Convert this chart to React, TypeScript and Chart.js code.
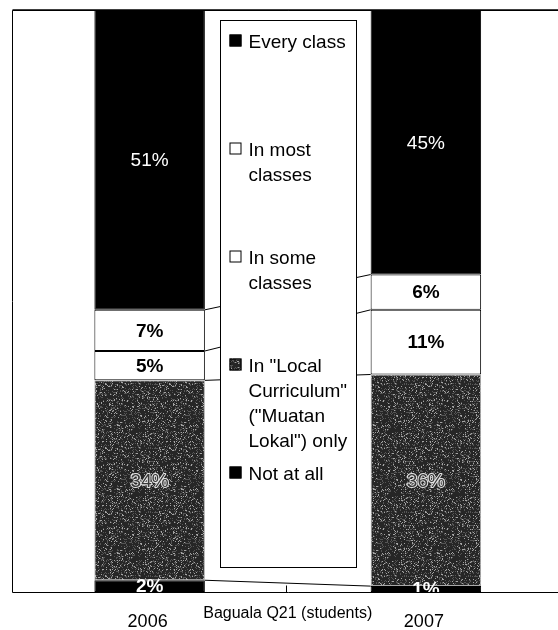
import React, { useEffect, useRef } from 'react';
import { Chart, registerables } from 'chart.js';

Chart.register(...registerables);

// ---- data ----
const categories = ['', '2006', 'Baguala Q21 (students)', '2007', ''];
const seriesNames = [
  'Not at all',
  'In "Local Curriculum" ("Muatan Lokal") only',
  'In some classes',
  'In most classes',
  'Every class',
];
const notAtAll = [null, 2, null, 1, null];
const localCurriculum = [null, 34, null, 36, null];
const someClasses = [null, 5, null, 11, null];
const mostClasses = [null, 7, null, 6, null];
const everyClass = [null, 51, null, 45, null];
const yMax = 99;

const FONT = '"Liberation Sans", Arial, sans-serif';

function makeSpeckle(): CanvasPattern | string {
  const size = 64;
  const c = document.createElement('canvas');
  c.width = size;
  c.height = size;
  const g = c.getContext('2d');
  if (!g) return '#3a3a3a';
  const img = g.createImageData(size, size);
  for (let y = 0; y < size; y++) {
    for (let x = 0; x < size; x++) {
      let h = (Math.imul(x, 374761393) + Math.imul(y, 668265263)) >>> 0;
      h = Math.imul(h ^ (h >>> 13), 1274126177) >>> 0;
      h = (h ^ (h >>> 16)) >>> 0;
      const r = h % 100;
      const v = r < 8 ? 165 : r < 26 ? 85 : 38;
      const i = (y * size + x) * 4;
      img.data[i] = v;
      img.data[i + 1] = v;
      img.data[i + 2] = v;
      img.data[i + 3] = 255;
    }
  }
  g.putImageData(img, 0, 0);
  return g.createPattern(c, 'repeat') || '#3a3a3a';
}

type LabelStyle = { font: string; fill: string; stroke?: string };
const labelStyles: LabelStyle[] = [
  { font: `bold 19px ${FONT}`, fill: '#ffffff' },
  { font: `19px ${FONT}`, fill: '#3a3a3a', stroke: '#e6e6e6' },
  { font: `bold 19px ${FONT}`, fill: '#000000' },
  { font: `bold 19px ${FONT}`, fill: '#000000' },
  { font: `19px ${FONT}`, fill: '#ffffff' },
];

function wrap(ctx: CanvasRenderingContext2D, text: string, maxW: number): string[] {
  const words = text.split(' ');
  const lines: string[] = [];
  let cur = '';
  for (const w of words) {
    const t = cur ? cur + ' ' + w : w;
    if (cur && ctx.measureText(t).width > maxW) {
      lines.push(cur);
      cur = w;
    } else cur = t;
  }
  if (cur) lines.push(cur);
  return lines;
}

const decorPlugin = {
  id: 'decor',
  afterDatasetsDraw(chart: any) {
    const ctx: CanvasRenderingContext2D = chart.ctx;
    const area = chart.chartArea;
    const xs = chart.scales.x;
    const n = chart.data.datasets.length;
    ctx.save();

    // series lines between the two bars
    ctx.strokeStyle = '#000';
    ctx.lineWidth = 1;
    for (let d = 0; d < n - 1; d++) {
      const meta = chart.getDatasetMeta(d);
      const a = meta.data[1];
      const b = meta.data[3];
      ctx.beginPath();
      ctx.moveTo(a.x + a.width / 2, a.y);
      ctx.lineTo(b.x - b.width / 2, b.y);
      ctx.stroke();
    }

    // legend box
    const cx = xs.getPixelForValue(2);
    const bl = Math.round(cx - 68) + 0.5;
    const br = Math.round(cx + 68) + 0.5;
    const bt = Math.round(area.top + 10) + 0.5;
    const bb = Math.round(area.bottom - 25) + 0.5;
    ctx.fillStyle = '#fff';
    ctx.fillRect(bl, bt, br - bl, bb - bt);
    ctx.strokeStyle = '#000';
    ctx.lineWidth = 1;
    ctx.strokeRect(bl, bt, br - bl, bb - bt);

    ctx.font = `19px ${FONT}`;
    ctx.textBaseline = 'alphabetic';
    ctx.textAlign = 'left';
    for (let k = 0; k < n; k++) {
      const d = n - 1 - k;
      const ds = chart.data.datasets[d];
      const base = bt + 27 + k * 108;
      const mx = bl + 9;
      ctx.fillStyle = ds.backgroundColor;
      ctx.fillRect(mx, base - 13, 12, 12);
      ctx.strokeStyle = '#000';
      ctx.strokeRect(mx + 0.5, base - 12.5, 11, 11);
      const lines = wrap(ctx, ds.label, 110);
      ctx.fillStyle = '#000';
      lines.forEach((ln, i) => ctx.fillText(ln, bl + 28, base + i * 25));
    }

    // data labels
    ctx.save();
    ctx.beginPath();
    ctx.rect(area.left, area.top, area.right - area.left, area.bottom - area.top);
    ctx.clip();
    ctx.textAlign = 'center';
    ctx.textBaseline = 'middle';
    for (let d = 0; d < n; d++) {
      const meta = chart.getDatasetMeta(d);
      const st = labelStyles[d];
      const vals = chart.data.datasets[d].data;
      meta.data.forEach((el: any, i: number) => {
        const v = vals[i];
        if (v === null || v === undefined) return;
        const y = (el.y + el.base) / 2;
        ctx.font = st.font;
        const txt = `${v}%`;
        if (st.stroke) {
          ctx.strokeStyle = st.stroke;
          ctx.lineWidth = 2;
          ctx.lineJoin = 'round';
          ctx.strokeText(txt, el.x, y + 1);
        }
        ctx.fillStyle = st.fill;
        ctx.fillText(txt, el.x, y + 1);
      });
    }
    ctx.restore();

    // frame: left, top and bottom lines
    ctx.strokeStyle = '#000';
    ctx.lineWidth = 1;
    const L = Math.round(area.left) + 0.5;
    const T = Math.round(area.top) + 0.5;
    const B = Math.round(area.bottom) + 0.5;
    ctx.beginPath();
    ctx.moveTo(L, B);
    ctx.lineTo(L, T);
    ctx.lineTo(chart.width, T);
    ctx.moveTo(L, B);
    ctx.lineTo(chart.width, B);
    ctx.stroke();
    ctx.lineWidth = 1.5;
    ctx.beginPath();
    ctx.moveTo(L, T - 0.5);
    ctx.lineTo(chart.width, T - 0.5);
    ctx.stroke();
    // middle tick
    const tx = Math.round(cx) - 1.5;
    ctx.lineWidth = 1;
    ctx.beginPath();
    ctx.moveTo(tx, B);
    ctx.lineTo(tx, B - 7);
    ctx.stroke();

    // category labels
    ctx.fillStyle = '#000';
    ctx.textAlign = 'center';
    ctx.textBaseline = 'alphabetic';
    for (let i = 1; i <= 3; i++) {
      const px = xs.getPixelForValue(i);
      if (i === 2) {
        ctx.font = `16px ${FONT}`;
        ctx.fillText(categories[i], px, area.bottom + 26);
      } else {
        ctx.font = `18px ${FONT}`;
        ctx.fillText(categories[i], px - 2, area.bottom + 35);
      }
    }
    ctx.restore();
  },
};

export default function App() {
  const ref = useRef<HTMLCanvasElement>(null);

  useEffect(() => {
    document.body.style.margin = '0';
    const canvas = ref.current;
    if (!canvas) return;
    const speckle = makeSpeckle();
    const common = { borderSkipped: false, borderWidth: 1 };
    const chart = new Chart(canvas, {
      type: 'bar',
      data: {
        labels: categories,
        datasets: [
          { label: seriesNames[0], data: notAtAll, backgroundColor: '#000000', borderColor: '#000000', ...common },
          { label: seriesNames[1], data: localCurriculum, backgroundColor: speckle as any, borderColor: '#a8a8a8', ...common },
          { label: seriesNames[2], data: someClasses, backgroundColor: '#ffffff', borderColor: '#000000', ...common },
          { label: seriesNames[3], data: mostClasses, backgroundColor: '#ffffff', borderColor: '#000000', ...common },
          { label: seriesNames[4], data: everyClass, backgroundColor: '#000000', borderColor: '#000000', ...common },
        ],
      },
      options: {
        responsive: false,
        animation: false,
        layout: { padding: { left: 11.5, right: 0, top: 10, bottom: 38 } },
        datasets: { bar: { categoryPercentage: 1, barPercentage: 0.8 } },
        scales: {
          x: { stacked: true, offset: false, display: false, grid: { display: false } },
          y: { stacked: true, min: 0, max: yMax, display: false, grid: { display: false } },
        },
        plugins: { legend: { display: false }, tooltip: { enabled: false } },
      },
      plugins: [decorPlugin],
    } as any);
    return () => chart.destroy();
  }, []);

  return (
    <div style={{ width: 558, height: 630, overflow: 'hidden', background: '#fff' }}>
      <div style={{ width: 564, height: 630 }}>
        <canvas ref={ref} width={564} height={630} style={{ display: 'block' }} />
      </div>
    </div>
  );
}
